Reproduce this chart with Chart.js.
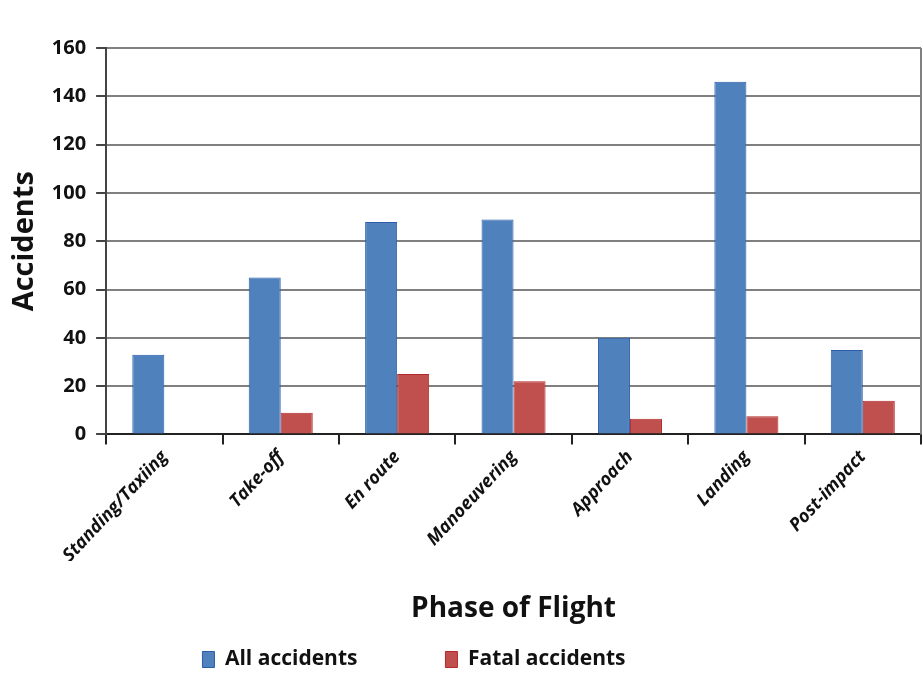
<!DOCTYPE html>
<html>
<head>
<meta charset="utf-8">
<script src="https://cdn.jsdelivr.net/npm/chart.js@4"></script>
<style>
  body { margin: 0; background: #fff; }
  #wrap { width: 923px; height: 682px; }
</style>
</head>
<body>
<div id="wrap"><canvas id="myChart" width="923" height="682"></canvas></div>
<script>
const phases = ['Standing/Taxiing', 'Take-off', 'En route', 'Manoeuvering', 'Approach', 'Landing', 'Post-impact'];
const allAccidents = [33, 65, 88, 89, 40, 146, 35];
const fatalAccidents = [0, 9, 25, 22, 6.5, 7.5, 14];
const yTicks = [0, 20, 40, 60, 80, 100, 120, 140, 160];

const FONT = 'Open Sans';

// right-hand frame line of the plot
const rightBorder = {
  id: 'rightBorder',
  afterDatasetsDraw(chart) {
    const a = chart.chartArea;
    const c = chart.ctx;
    c.save();
    c.strokeStyle = '#808080';
    c.lineWidth = 2;
    c.beginPath();
    c.moveTo(a.right, a.top);
    c.lineTo(a.right, a.bottom);
    c.stroke();
    c.restore();
  }
};

// legend in the original sits a bit left of centre
const legendShift = {
  id: 'legendShift',
  afterLayout(chart) {
    chart.legend.left -= 48;
    chart.legend.right -= 48;
  }
};

const ctx = document.getElementById('myChart');
new Chart(ctx, {
  type: 'bar',
  data: {
    labels: phases,
    datasets: [{
      label: 'All accidents',
      data: allAccidents,
      backgroundColor: '#4F81BD',
      borderColor: '#2A5CAA',
      borderWidth: 1
    }, {
      label: 'Fatal accidents',
      data: fatalAccidents,
      backgroundColor: '#C0504D',
      borderColor: '#B22A2A',
      borderWidth: 1
    }]
  },
  options: {
    responsive: false,
    animation: false,
    categoryPercentage: 0.55,
    barPercentage: 1,
    layout: {
      padding: { top: 48, right: 2, left: 3, bottom: 2 }
    },
    scales: {
      x: {
        grid: {
          offset: true,
          drawOnChartArea: false,
          tickLength: 10,
          color: '#222',
          lineWidth: 2
        },
        border: { color: '#222', width: 2 },
        ticks: {
          maxRotation: 47,
          minRotation: 47,
          color: '#111',
          padding: 2,
          font: { family: FONT, size: 18, weight: 'bold', style: 'italic' }
        },
        title: {
          display: true,
          text: 'Phase of Flight',
          color: '#111',
          // negative bottom pad lets the title sit inside the wide legend box
          padding: { top: 24, bottom: -65 },
          font: { family: FONT, size: 28, weight: 'bold' }
        }
      },
      y: {
        min: 0,
        max: 160,
        afterBuildTicks(axis) {
          axis.ticks = yTicks.map(v => ({ value: v }));
        },
        grid: {
          color: '#808080',
          lineWidth: 2,
          tickLength: 10,
          tickColor: '#444'
        },
        border: { color: '#444', width: 2 },
        ticks: {
          color: '#111',
          padding: 10,
          font: { family: FONT, size: 20, weight: 'bold' }
        },
        title: {
          display: true,
          text: 'Accidents',
          color: '#111',
          padding: { top: 4, bottom: 0 },
          font: { family: FONT, size: 29, weight: 'bold' }
        }
      }
    },
    plugins: {
      legend: {
        position: 'bottom',
        labels: {
          color: '#111',
          boxWidth: 12,
          boxHeight: 16,
          padding: 88,
          font: { family: FONT, size: 21, weight: 'bold' }
        }
      },
      tooltip: { enabled: false }
    }
  },
  plugins: [rightBorder, legendShift]
});
</script>
</body>
</html>
